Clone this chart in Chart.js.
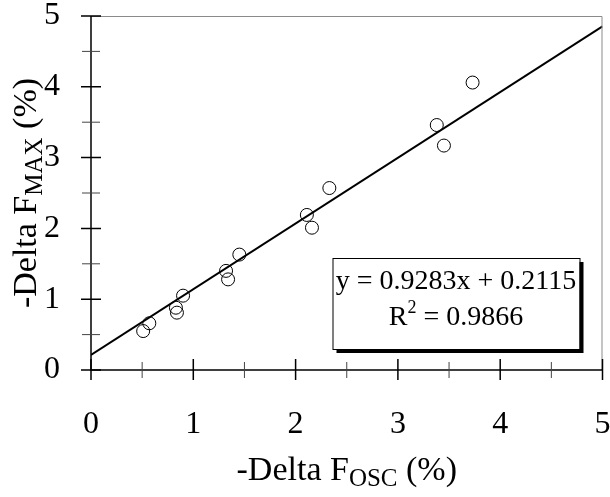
<!DOCTYPE html>
<html>
<head>
<meta charset="utf-8">
<script src="https://cdn.jsdelivr.net/npm/chart.js@4.4.1/dist/chart.umd.min.js"></script>
<style>
  html, body { margin: 0; padding: 0; background: #fff; }
  #wrap { width: 610px; height: 497px; }
</style>
</head>
<body>
<div id="wrap"><canvas id="chart" width="610" height="497"></canvas></div>
<script>
// data
const oscDelta = [0.51, 0.57, 0.83, 0.84, 0.90, 1.32, 1.34, 1.45, 2.11, 2.16, 2.33, 3.38, 3.45, 3.73];
const maxDelta = [0.55, 0.66, 0.88, 0.81, 1.05, 1.40, 1.28, 1.63, 2.19, 2.01, 2.57, 3.46, 3.17, 4.06];

// trend line end points (y = 0.9283x + 0.2115)
const fitX = [0, 5];
const fitY = [0.2115, 4.853];

const majorTicks = [0, 1, 2, 3, 4, 5];
const minorTicks = [0.5, 1.5, 2.5, 3.5, 4.5];

const eqText = "y = 0.9283x + 0.2115";
const r2Text = " = 0.9866";

const SERIF = '"Liberation Serif", "Times New Roman", serif';

// draw text made of pieces (normal + subscript)
function drawPieces(ctx, parts, cx, cy) {
  let total = 0;
  parts.forEach(p => {
    ctx.font = p.size + "px " + SERIF;
    p.w = ctx.measureText(p.t).width;
    total += p.w;
  });
  let x = cx - total / 2;
  ctx.textAlign = "left";
  ctx.textBaseline = "alphabetic";
  parts.forEach(p => {
    ctx.font = p.size + "px " + SERIF;
    ctx.fillText(p.t, x, cy + p.dy);
    x += p.w;
  });
}

const decorPlugin = {
  id: "decor",
  afterDraw(chart) {
    const { ctx, chartArea: a, scales } = chart;
    const xs = scales.x, ys = scales.y;
    ctx.save();

    // top / right frame
    ctx.strokeStyle = "#8a8a8a";
    ctx.lineWidth = 1;
    ctx.beginPath();
    ctx.moveTo(a.left, a.top + 0.5);
    ctx.lineTo(a.right - 0.5, a.top + 0.5);
    ctx.lineTo(a.right - 0.5, a.bottom);
    ctx.stroke();

    // axes
    ctx.strokeStyle = "#000";
    ctx.lineWidth = 1.5;
    ctx.beginPath();
    ctx.moveTo(a.left, a.top);
    ctx.lineTo(a.left, a.bottom);
    ctx.lineTo(a.right, a.bottom);
    ctx.stroke();

    // tick marks crossing the axes
    majorTicks.forEach(v => {
      const px = xs.getPixelForValue(v);
      const py = ys.getPixelForValue(v);
      ctx.lineWidth = 1.5;
      ctx.strokeStyle = "#000";
      ctx.beginPath();
      ctx.moveTo(px, a.bottom - 11); ctx.lineTo(px, a.bottom + 10);
      ctx.moveTo(a.left - 10, py); ctx.lineTo(a.left + 10, py);
      ctx.stroke();
    });
    minorTicks.forEach(v => {
      const px = xs.getPixelForValue(v);
      const py = ys.getPixelForValue(v);
      ctx.lineWidth = 1;
      ctx.strokeStyle = "#444";
      ctx.beginPath();
      ctx.moveTo(px, a.bottom - 8); ctx.lineTo(px, a.bottom + 8);
      ctx.moveTo(a.left - 9, py); ctx.lineTo(a.left + 9, py);
      ctx.stroke();
    });

    // equation box
    const bx = a.right - 270, by = a.bottom - 112, bw = 247, bh = 91;
    ctx.fillStyle = "#000";
    ctx.fillRect(bx + 4, by + 4, bw, bh);
    ctx.fillStyle = "#fff";
    ctx.fillRect(bx, by, bw, bh);
    ctx.strokeStyle = "#000";
    ctx.lineWidth = 1;
    ctx.strokeRect(bx + 0.5, by + 0.5, bw, bh);
    ctx.fillStyle = "#000";
    const cx = bx + bw / 2;
    drawPieces(ctx, [{ t: eqText, size: 28, dy: 0 }], cx, by + 31);
    drawPieces(ctx, [
      { t: "R", size: 28, dy: 0 },
      { t: "2", size: 18, dy: -12 },
      { t: r2Text, size: 28, dy: 0 }
    ], cx, by + 67);

    // axis titles
    drawPieces(ctx, [
      { t: "-Delta F", size: 34, dy: 0 },
      { t: "OSC", size: 25, dy: 6 },
      { t: " (%)", size: 34, dy: 0 }
    ], (a.left + a.right) / 2, 480);

    ctx.save();
    ctx.translate(36, (a.top + a.bottom) / 2);
    ctx.rotate(-Math.PI / 2);
    drawPieces(ctx, [
      { t: "-Delta F", size: 34, dy: 0 },
      { t: "MAX", size: 25, dy: 6 },
      { t: " (%)", size: 34, dy: 0 }
    ], 0, 0);
    ctx.restore();

    ctx.restore();
  }
};

const points = oscDelta.map((v, i) => ({ x: v, y: maxDelta[i] }));
const trend = fitX.map((v, i) => ({ x: v, y: fitY[i] }));

// fixed axis sizes, no extra label padding
function fixSize(prop, size) {
  return (s) => {
    s[prop] = size;
    s.paddingTop = 0; s.paddingBottom = 0;
    s.paddingLeft = 0; s.paddingRight = 0;
  };
}

new Chart(document.getElementById("chart"), {
  type: "scatter",
  data: {
    datasets: [
      {
        type: "line",
        data: trend,
        borderColor: "#000",
        borderWidth: 2,
        pointRadius: 0,
        fill: false
      },
      {
        type: "scatter",
        data: points,
        pointRadius: 6.5,
        pointBorderWidth: 1,
        pointBorderColor: "#000",
        pointBackgroundColor: "rgba(0,0,0,0)"
      }
    ]
  },
  options: {
    responsive: false,
    animation: false,
    devicePixelRatio: 1,
    layout: { padding: { top: 16, right: 7, left: 0, bottom: 0 } },
    plugins: {
      legend: { display: false },
      tooltip: { enabled: false }
    },
    scales: {
      x: {
        type: "linear",
        min: 0,
        max: 5,
        afterFit: fixSize("height", 127),
        afterBuildTicks: (s) => { s.ticks = majorTicks.map(v => ({ value: v })); },
        ticks: {
          color: "#000",
          padding: 35,
          font: { family: SERIF, size: 32 }
        },
        grid: { display: false, drawTicks: false },
        border: { display: false }
      },
      y: {
        type: "linear",
        min: 0,
        max: 5,
        afterFit: fixSize("width", 91),
        afterBuildTicks: (s) => { s.ticks = majorTicks.map(v => ({ value: v })); },
        ticks: {
          color: "#000",
          padding: 31,
          font: { family: SERIF, size: 32 }
        },
        grid: { display: false, drawTicks: false },
        border: { display: false }
      }
    }
  },
  plugins: [decorPlugin]
});
</script>
</body>
</html>
